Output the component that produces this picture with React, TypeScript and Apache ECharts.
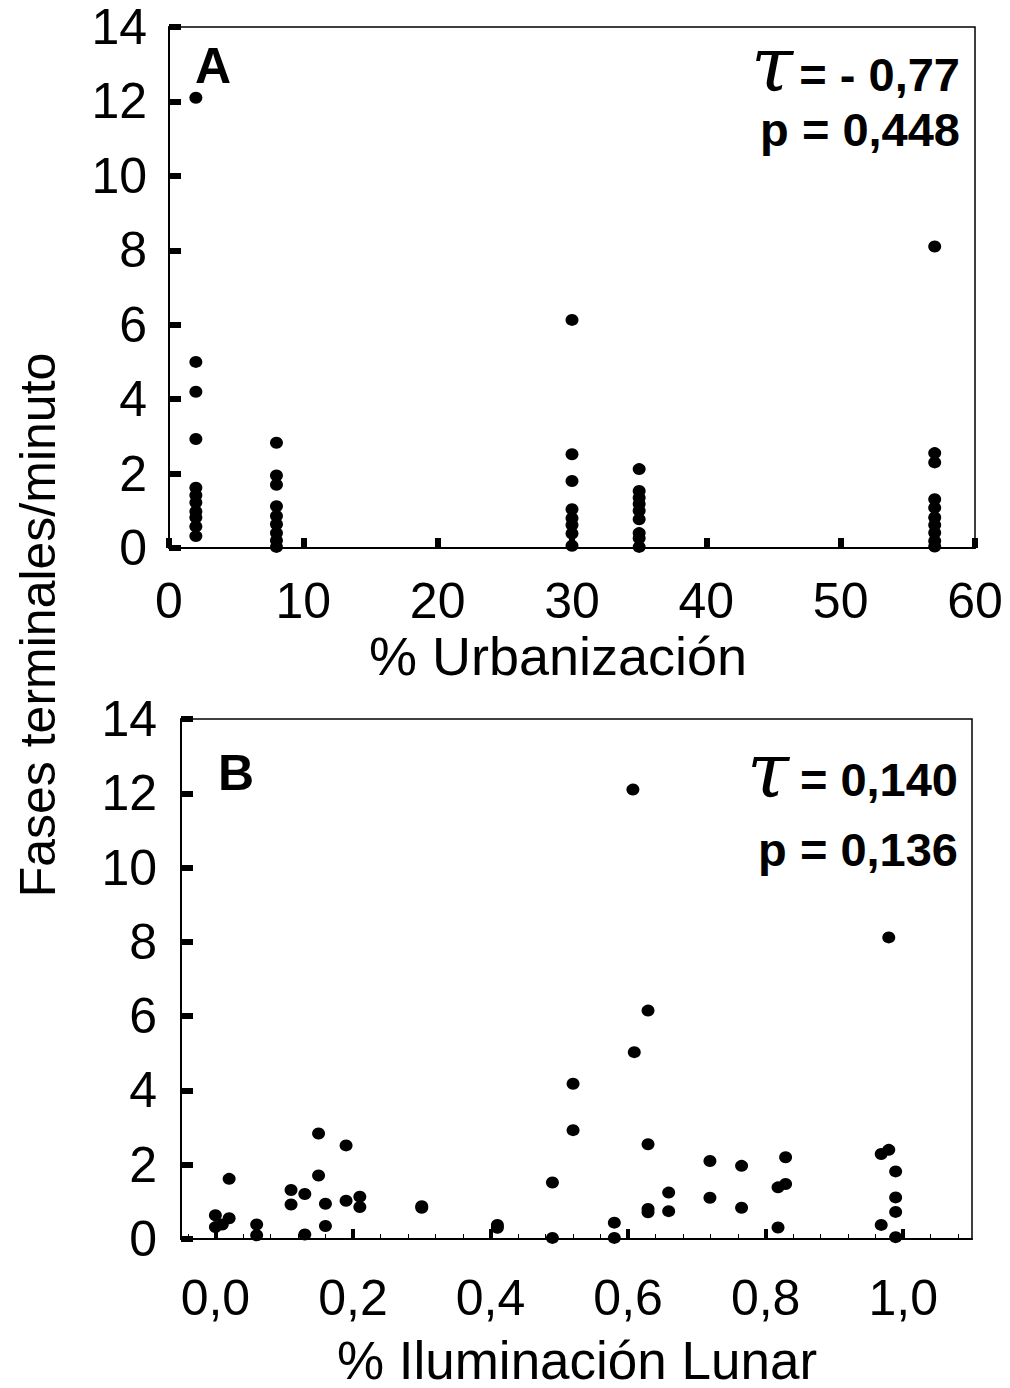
import React, { useEffect, useRef } from 'react';
import * as echarts from 'echarts';

// ---- Panel A: % Urbanización ----
const urbanTicks = [0, 10, 20, 30, 40, 50, 60];
const urbanLevels = [2, 8, 30, 35, 57];
const fasesAt2 = [12.1, 5.0, 4.2, 2.93, 1.62, 1.42, 1.22, 0.98, 0.82, 0.58, 0.32];
const fasesAt8 = [2.83, 1.95, 1.7, 1.12, 0.86, 0.64, 0.4, 0.2, 0.03];
const fasesAt30 = [6.13, 2.52, 1.8, 1.04, 0.8, 0.62, 0.39, 0.06];
const fasesAt35 = [2.12, 1.53, 1.35, 1.18, 1.0, 0.77, 0.4, 0.26, 0.03];
const fasesAt57 = [8.1, 2.55, 2.3, 1.31, 1.08, 0.82, 0.62, 0.41, 0.19, 0.04];
const fasesByLevel = [fasesAt2, fasesAt8, fasesAt30, fasesAt35, fasesAt57];

// ---- Panel B: % Iluminación Lunar ----
const lunarIllum = [
  0.0, 0.0, 0.01, 0.02, 0.02, 0.06, 0.06, 0.11, 0.11, 0.13,
  0.13, 0.15, 0.15, 0.16, 0.16, 0.19, 0.19, 0.21, 0.21, 0.30,
  0.30, 0.41, 0.41, 0.49, 0.49, 0.52, 0.52, 0.58, 0.58, 0.607,
  0.609, 0.629, 0.629, 0.629, 0.629, 0.659, 0.659, 0.719, 0.719, 0.765,
  0.765, 0.818, 0.829, 0.829, 0.818, 0.968, 0.979, 0.979, 0.989, 0.989,
  0.989, 0.968, 0.989,
];
const lunarFases = [
  0.64, 0.32, 0.39, 0.56, 1.62, 0.39, 0.1, 1.32, 0.93, 1.21,
  0.12, 2.84, 1.71, 0.95, 0.35, 2.52, 1.03, 1.14, 0.86, 0.88,
  0.84, 0.38, 0.3, 1.52, 0.03, 4.18, 2.93, 0.44, 0.03, 12.1,
  5.03, 6.15, 2.55, 0.81, 0.72, 1.25, 0.75, 2.1, 1.11, 1.97,
  0.84, 1.39, 1.48, 2.2, 0.31, 2.29, 2.4, 8.12, 1.82, 1.12,
  0.73, 0.38, 0.05,
];
const lunarMajorTicks = [0, 0.2, 0.4, 0.6, 0.8, 1.0];
const lunarMinorTicks = [
  -0.04, 0.04, 0.08, 0.12, 0.16, 0.24, 0.28, 0.32, 0.36, 0.44, 0.48, 0.52, 0.56,
  0.64, 0.68, 0.72, 0.76, 0.84, 0.88, 0.92, 0.96, 1.04, 1.08,
];

const yTicksMax = 14;
const yTickStep = 2;

const FONT = "'Liberation Sans', Arial, sans-serif";

export default function App() {
  const ref = useRef<HTMLDivElement>(null);

  useEffect(() => {
    if (!ref.current) return;
    const chart = echarts.init(ref.current, null, { renderer: 'svg' });

    const urbanData: number[][] = [];
    urbanLevels.forEach((lvl, i) => {
      fasesByLevel[i].forEach((v) => urbanData.push([lvl, v]));
    });
    const lunarData = lunarIllum.map((x, i) => [x, lunarFases[i]]);

    const yAxisCommon = {
      type: 'value',
      min: 0,
      max: yTicksMax,
      interval: yTickStep,
      splitLine: { show: false },
      axisLine: { show: true, onZero: false, lineStyle: { color: '#000', width: 2 } },
      axisTick: { show: true, inside: true, length: 12, lineStyle: { color: '#000', width: 6 } },
      axisLabel: { color: '#000', fontSize: 50, fontFamily: FONT, margin: 22 },
    };

    const option: any = {
      animation: false,
      backgroundColor: '#fff',
      grid: [
        { left: 169, top: 27, width: 806, height: 521, show: true, borderColor: '#000', borderWidth: 1.5, backgroundColor: 'transparent' },
        { left: 181, top: 719, width: 791, height: 520, show: true, borderColor: '#000', borderWidth: 1.5, backgroundColor: 'transparent' },
      ],
      xAxis: [
        {
          type: 'value',
          gridIndex: 0,
          min: urbanTicks[0],
          max: urbanTicks[urbanTicks.length - 1],
          interval: 10,
          splitLine: { show: false },
          axisLine: { show: true, onZero: false, lineStyle: { color: '#000', width: 2 } },
          axisTick: { show: true, inside: true, length: 10, lineStyle: { color: '#000', width: 6 } },
          axisLabel: { color: '#000', fontSize: 50, fontFamily: FONT, margin: 28 },
        },
        {
          type: 'value',
          gridIndex: 1,
          min: -0.05,
          max: 1.1,
          splitLine: { show: false },
          axisLine: { show: true, onZero: false, lineStyle: { color: '#000', width: 2 } },
          axisTick: {
            show: true, inside: true, length: 10, customValues: lunarMajorTicks,
            lineStyle: { color: '#000', width: 4 },
          },
          axisLabel: {
            color: '#000', fontSize: 50, fontFamily: FONT, margin: 34,
            customValues: lunarMajorTicks,
            formatter: (v: number) => v.toFixed(1).replace('.', ','),
          },
        },
        {
          type: 'value',
          gridIndex: 1,
          min: -0.05,
          max: 1.1,
          position: 'bottom',
          offset: 0,
          splitLine: { show: false },
          axisLine: { show: false, onZero: false },
          axisTick: {
            show: true, inside: true, length: 5, customValues: lunarMinorTicks,
            lineStyle: { color: '#000', width: 1 },
          },
          axisLabel: { show: false },
        },
      ],
      yAxis: [
        { ...yAxisCommon, gridIndex: 0 },
        { ...yAxisCommon, gridIndex: 1, axisLabel: { ...yAxisCommon.axisLabel, margin: 24 } },
      ],
      series: [
        {
          type: 'scatter',
          xAxisIndex: 0,
          yAxisIndex: 0,
          data: urbanData,
          symbol: 'circle',
          symbolSize: [13, 12],
          itemStyle: { color: '#000', opacity: 1 },
          clip: false,
          z: 5,
        },
        {
          type: 'scatter',
          xAxisIndex: 1,
          yAxisIndex: 1,
          data: lunarData,
          symbol: 'circle',
          symbolSize: [13, 12],
          itemStyle: { color: '#000', opacity: 1 },
          clip: false,
          z: 5,
        },
      ],
      graphic: [
        {
          type: 'text', x: 38, y: 625, rotation: Math.PI / 2,
          style: { text: 'Fases terminales/minuto', fontSize: 50, fontFamily: FONT, fill: '#000', align: 'center', verticalAlign: 'middle' },
        },
        {
          type: 'text', x: 558, y: 656,
          style: { text: '% Urbanización', fontSize: 54, fontFamily: FONT, fill: '#000', align: 'center', verticalAlign: 'middle' },
        },
        {
          type: 'text', x: 577, y: 1360,
          style: { text: '% Iluminación Lunar', fontSize: 53, fontFamily: FONT, fill: '#000', align: 'center', verticalAlign: 'middle' },
        },
        {
          type: 'text', x: 195, y: 66,
          style: { text: 'A', fontSize: 50, fontWeight: 'bold', fontFamily: FONT, fill: '#000', align: 'left', verticalAlign: 'middle' },
        },
        {
          type: 'text', x: 218, y: 773,
          style: { text: 'B', fontSize: 50, fontWeight: 'bold', fontFamily: FONT, fill: '#000', align: 'left', verticalAlign: 'middle' },
        },
        {
          type: 'text', x: 772, y: 64,
          style: { text: 'τ', fontSize: 76, fontStyle: 'italic', fontFamily: "'DejaVu Serif', serif", fill: '#000', align: 'center', verticalAlign: 'middle' },
        },
        {
          type: 'text', x: 960, y: 74,
          style: { text: '= - 0,77', fontSize: 47, fontWeight: 'bold', fontFamily: FONT, fill: '#000', align: 'right', verticalAlign: 'middle' },
        },
        {
          type: 'text', x: 960, y: 129,
          style: { text: 'p = 0,448', fontSize: 47, fontWeight: 'bold', fontFamily: FONT, fill: '#000', align: 'right', verticalAlign: 'middle' },
        },
        {
          type: 'text', x: 768, y: 770,
          style: { text: 'τ', fontSize: 76, fontStyle: 'italic', fontFamily: "'DejaVu Serif', serif", fill: '#000', align: 'center', verticalAlign: 'middle' },
        },
        {
          type: 'text', x: 958, y: 779,
          style: { text: '= 0,140', fontSize: 47, fontWeight: 'bold', fontFamily: FONT, fill: '#000', align: 'right', verticalAlign: 'middle' },
        },
        {
          type: 'text', x: 958, y: 849,
          style: { text: 'p = 0,136', fontSize: 47, fontWeight: 'bold', fontFamily: FONT, fill: '#000', align: 'right', verticalAlign: 'middle' },
        },
      ],
    };

    chart.setOption(option);
    return () => chart.dispose();
  }, []);

  return (
    <div
      ref={ref}
      style={{ position: 'absolute', left: 0, top: 0, width: 1010, height: 1388, background: '#fff' }}
    />
  );
}
